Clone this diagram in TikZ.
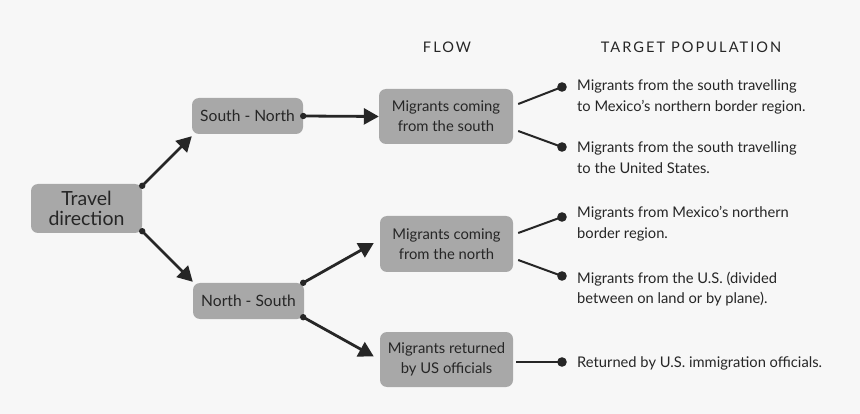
\documentclass[tikz,border=0pt]{standalone}
\usepackage{fontspec}
\setmainfont{Lato}
\usetikzlibrary{arrows.meta}
\definecolor{bgc}{HTML}{F7F7F7}
\definecolor{boxc}{HTML}{A8A8A8}
\definecolor{ink}{HTML}{262626}
\tikzset{
  box/.style={fill=boxc, rounded corners=7pt, align=center, inner sep=0pt, text=ink},
  arr/.style={line width=2.8pt, draw=ink, -{Triangle[length=15pt,width=16pt]}},
  thin/.style={line width=2pt, draw=ink},
  sdot/.style={fill=ink},
  lbl/.style={anchor=base west, align=left, inner sep=0pt, text=ink, font=\fontsize{14.7}{20.5}\selectfont},
  head/.style={inner sep=0pt, text=ink, font=\fontsize{14.6}{16}\selectfont\addfontfeatures{LetterSpace=14}}
}
\begin{document}
\begin{tikzpicture}[x=1pt,y=-1pt]
\fill[bgc] (0,0) rectangle (860,414);
\useasboundingbox (0,0) rectangle (860,414);

\node[box, minimum width=111pt, minimum height=49pt, font=\fontsize{19.5}{20}\selectfont] (td) at (86.5,208.5) {Travel\\direction};
\node[box, minimum width=111pt, minimum height=36pt, font=\fontsize{15.6}{16}\selectfont] (sn) at (247.5,116) {South - North};
\node[box, minimum width=111pt, minimum height=36pt, font=\fontsize{15.6}{16}\selectfont] (ns) at (248.5,301) {North - South};
\node[box, minimum width=134pt, minimum height=55pt, font=\fontsize{14.8}{20}\selectfont] (ms) at (446,116.5) {Migrants coming\\from the south};
\node[box, minimum width=133pt, minimum height=56pt, font=\fontsize{14.8}{20}\selectfont] (mn) at (446.5,244) {Migrants coming\\from the north};
\node[box, minimum width=133pt, minimum height=55pt, font=\fontsize{14.8}{20}\selectfont] (mr) at (446.5,359.5) {Migrants returned\\by US officials};

\node[head] (hflow) at (447,47) {FLOW};
\node[head] (htarget) at (691,47) {TARGET POPULATION};

% left arrows
\coordinate (a1) at ([yshift=-2pt]td.north east);
\coordinate (a2) at ([yshift=2pt]td.south east);
\draw[arr] (a1) -- ([yshift=-2pt]sn.south west);
\fill[sdot] (a1) circle (3.2pt);
\draw[arr] (a2) -- ([yshift=1pt]ns.north west);
\fill[sdot] (a2) circle (3.2pt);

\coordinate (a3) at (sn.east);
\draw[arr] (a3) -- (ms.west);
\fill[sdot] (a3) circle (3.2pt);

\coordinate (a4) at ([xshift=-1pt,yshift=0pt]ns.north east);
\coordinate (a5) at ([xshift=-1pt,yshift=2pt]ns.south east);
\draw[arr] (a4) -- ([xshift=-6pt,yshift=1pt]mn.west);
\fill[sdot] (a4) circle (3.2pt);
\draw[arr] (a5) -- ([xshift=-6pt,yshift=3pt]mr.west);
\fill[sdot] (a5) circle (3.2pt);

% right bullets
\coordinate (b1) at (562,87);
\coordinate (b2) at (562,147);
\coordinate (b3) at (562,217);
\coordinate (b4) at (562,276);
\coordinate (b5) at (562,362);
\draw[thin] ([xshift=5pt,yshift=12.5pt]ms.east) -- (b1);
\draw[thin] ([xshift=5pt,yshift=-14.5pt]ms.east) -- (b2);
\draw[thin] ([xshift=5pt,yshift=11pt]mn.east) -- (b3);
\draw[thin] ([xshift=5pt,yshift=-16pt]mn.east) -- (b4);
\draw[thin] ([xshift=3pt,yshift=-2.5pt]mr.east) -- (b5);
\foreach \b in {b1,b2,b3,b4,b5} \fill[sdot] (\b) circle (4.8pt);

\node[lbl] (t1) at (577,111.5) {Migrants from the south travelling\\to Mexico’s northern border region.};
\node[lbl] (t2) at (577,173.5) {Migrants from the south travelling\\to the United States.};
\node[lbl] (t3) at (577,238.5) {Migrants from Mexico’s northern\\border region.};
\node[lbl] (t4) at (577,304) {Migrants from the U.S. (divided\\between on land or by plane).};
\node[lbl] (t5) at (577,367.5) {Returned by U.S. immigration officials.};
\end{tikzpicture}
\end{document}
